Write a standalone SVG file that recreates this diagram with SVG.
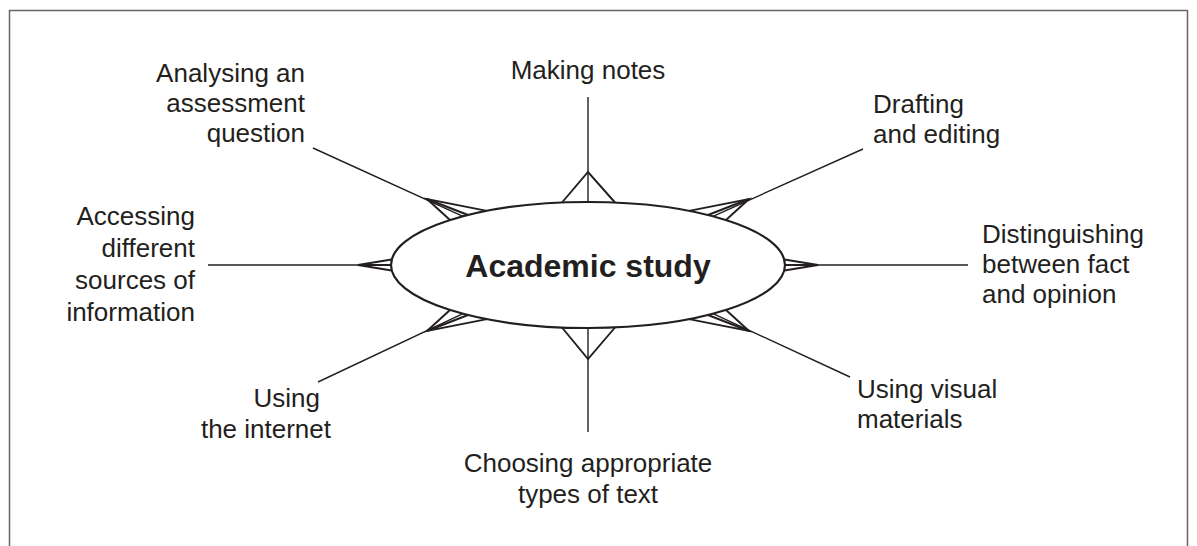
<svg xmlns="http://www.w3.org/2000/svg" width="1197" height="546" viewBox="0 0 1197 546">
<style>
.lbl{font-family:"Liberation Sans",Arial,sans-serif;font-size:26px;fill:#231f20}
.title{font-family:"Liberation Sans",Arial,sans-serif;font-size:32px;font-weight:bold;fill:#231f20}
.conn{stroke:#231f20;stroke-width:1.4;fill:none}
.spike{stroke:#231f20;stroke-width:1.9;fill:none;stroke-linejoin:miter}
</style>
<rect width="1197" height="546" fill="#fff"/>
<path d="M9.5,546 V10.5 H1187.5 V546" fill="none" stroke="#666" stroke-width="1.5"/>
<g id="connectors">
<line class="conn" x1="588" y1="97" x2="588" y2="202"/>
<line class="conn" x1="588" y1="328" x2="588" y2="432"/>
<line class="conn" x1="208" y1="265" x2="391" y2="265"/>
<line class="conn" x1="785" y1="265" x2="968" y2="265"/>
<line class="conn" x1="313" y1="148" x2="463" y2="216.3"/>
<line class="conn" x1="863" y1="149" x2="713" y2="216.3"/>
<line class="conn" x1="318" y1="382" x2="463" y2="313.7"/>
<line class="conn" x1="850" y1="377" x2="713" y2="313.7"/>
<polyline class="spike" points="562,202.5 588,172 615,202.5"/>
<polyline class="spike" points="562,327.5 588,359 615,327.5"/>
<polyline class="spike" points="391.6,259.5 358,265 391.6,270.5"/>
<line class="spike" x1="358" y1="265" x2="391" y2="265"/>
<polyline class="spike" points="784.4,259.5 818,265 784.4,270.5"/>
<line class="spike" x1="818" y1="265" x2="785" y2="265"/>
<polyline class="spike" points="487,210.9 427,199 450,220"/>
<line class="spike" x1="427" y1="199" x2="468" y2="215" stroke-width="1.4"/>
<polyline class="spike" points="689,210.9 749,199 726,220"/>
<line class="spike" x1="749" y1="199" x2="708" y2="215" stroke-width="1.4"/>
<polyline class="spike" points="487,319.1 427,331 450,310"/>
<line class="spike" x1="427" y1="331" x2="468" y2="315" stroke-width="1.4"/>
<polyline class="spike" points="689,319.1 749,331 726,310"/>
<line class="spike" x1="749" y1="331" x2="708" y2="315" stroke-width="1.4"/>
</g>
<g id="center">
<ellipse cx="588" cy="265" rx="197" ry="63" fill="#fff" stroke="#231f20" stroke-width="2.2"/>
<text class="title" x="588" y="277" text-anchor="middle">Academic study</text>
</g>
<g id="making-notes"><text class="lbl" x="588" y="79" text-anchor="middle">Making notes</text></g>
<g id="analysing"><text class="lbl" text-anchor="end"><tspan x="305" y="82">Analysing an</tspan><tspan x="305" y="112">assessment</tspan><tspan x="305" y="142">question</tspan></text></g>
<g id="drafting"><text class="lbl"><tspan x="873" y="113">Drafting</tspan><tspan x="873" y="143">and editing</tspan></text></g>
<g id="accessing"><text class="lbl" text-anchor="end"><tspan x="195" y="225">Accessing</tspan><tspan x="195" y="257">different</tspan><tspan x="195" y="289">sources of</tspan><tspan x="195" y="321">information</tspan></text></g>
<g id="distinguishing"><text class="lbl"><tspan x="982" y="243">Distinguishing</tspan><tspan x="982" y="273">between fact</tspan><tspan x="982" y="303">and opinion</tspan></text></g>
<g id="internet"><text class="lbl" text-anchor="end"><tspan x="320" y="407">Using</tspan><tspan x="331" y="438">the internet</tspan></text></g>
<g id="choosing"><text class="lbl" text-anchor="middle"><tspan x="588" y="472">Choosing appropriate</tspan><tspan x="588" y="503">types of text</tspan></text></g>
<g id="visual"><text class="lbl"><tspan x="857" y="398">Using visual</tspan><tspan x="857" y="428">materials</tspan></text></g>
</svg>
